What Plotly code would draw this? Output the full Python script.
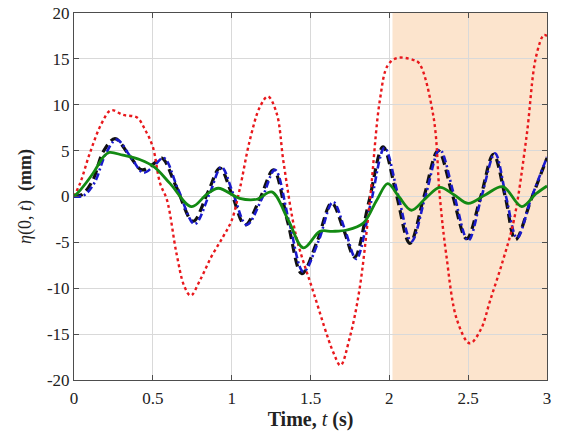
import plotly.graph_objects as go

# Red dotted series
t_red = [0, 0.04, 0.1, 0.176, 0.235, 0.31, 0.40, 0.45, 0.50, 0.545, 0.59, 0.65, 0.70, 0.74, 0.80, 0.87,
         0.945, 1.0, 1.05, 1.116, 1.18, 1.23, 1.285, 1.33, 1.41, 1.52, 1.645, 1.69, 1.75, 1.81, 1.877,
         1.94, 1.99, 2.05, 2.15, 2.19, 2.28, 2.32, 2.36, 2.43, 2.51, 2.58, 2.64, 2.72, 2.79, 2.87, 2.93, 2.98, 3.0]
v_red = [0, 1.5, 4.7, 8.0, 9.4, 8.9, 8.6, 7.3, 5.4, 1.5, -0.4, -6.2, -9.8, -10.8, -9.1, -6.6,
         -4.4, -2.6, 0.7, 6.2, 9.8, 10.9, 9.1, 3.6, -4.4, -10.5, -17.0, -18.4, -15.3, -10.2, -0.4,
         10.5, 14.3, 15.1, 14.9, 14.5, 8.7, 0.0, -6.2, -13.5, -16.0, -14.5, -11.3, -7.0, -2.6, 6.5, 15.2, 17.6, 17.5]

# Black dashed series
t_blk = [0, 0.05, 0.12, 0.186, 0.26, 0.35, 0.43, 0.50, 0.556, 0.65, 0.755, 0.85, 0.926, 1.0, 1.085,
         1.18, 1.265, 1.355, 1.445, 1.54, 1.634, 1.71, 1.78, 1.87, 1.96, 2.045, 2.13, 2.22, 2.31, 2.40,
         2.49, 2.58, 2.66, 2.735, 2.80, 2.90, 3.0]
v_blk = [0, 0.2, 1.8, 4.9, 6.3, 4.5, 2.9, 3.5, 4.2, 1.0, -2.7, 0.5, 3.1, 0.3, -3.1,
         -0.2, 2.9, -2.75, -8.4, -5.0, -0.7, -3.6, -6.6, -0.6, 5.4, 0.2, -5.1, 0.0, 5.0, 0.2,
         -4.6, 0.0, 4.6, 0.0, -4.7, -0.3, 4.2]

# Blue dash-dot series
t_blu = [0, 0.06, 0.13, 0.20, 0.27, 0.36, 0.44, 0.51, 0.57, 0.66, 0.765, 0.86, 0.935, 1.01, 1.095,
         1.19, 1.275, 1.365, 1.455, 1.55, 1.643, 1.72, 1.79, 1.88, 1.97, 2.055, 2.14, 2.23, 2.32, 2.41,
         2.50, 2.585, 2.67, 2.74, 2.81, 2.90, 3.0]
v_blu = [0, 0.1, 1.5, 4.6, 6.2, 4.3, 2.6, 3.4, 4.2, 0.8, -3.0, 0.3, 3.2, 0.3, -3.1,
         -0.3, 2.9, -2.8, -8.2, -4.9, -0.6, -3.7, -6.8, -0.9, 5.3, 0.2, -4.9, 0.1, 5.1, 0.2,
         -4.8, 0.0, 4.7, 0.0, -4.5, -0.2, 4.3]

# Green solid series
t_grn = [0, 0.04, 0.12, 0.186, 0.224, 0.31, 0.42, 0.51, 0.61, 0.746, 0.84, 0.915, 1.05, 1.16, 1.254,
         1.36, 1.455, 1.56, 1.64, 1.73, 1.835, 1.92, 1.99, 2.06, 2.14, 2.23, 2.32, 2.41, 2.50, 2.61,
         2.72, 2.84, 2.93, 3.0]
v_grn = [0, 0.7, 2.5, 4.3, 4.8, 4.5, 4.0, 3.2, 1.4, -1.1, 0.2, 0.9, -0.2, -0.3, 0.5,
         -2.6, -5.6, -3.8, -3.8, -3.65, -2.9, -0.4, 1.4, 0.0, -1.5, -0.2, 1.0, 0.2, -0.75, 0.2,
         1.07, -1.1, 0.3, 1.15]

shade_x = [2.02, 3.0]

x_ticks = [0, 0.5, 1, 1.5, 2, 2.5, 3]
x_labels = ["0", "0.5", "1", "1.5", "2", "2.5", "3"]
y_ticks = [-20, -15, -10, -5, 0, 5, 10, 15, 20]
y_labels = ["-20", "-15", "-10", "-5", "0", "5", "10", "15", "20"]

fig = go.Figure()
fig.add_trace(go.Scatter(x=t_blk, y=v_blk, mode="lines", line=dict(color="#111111", width=3.2, dash="9px,5px", shape="spline")))
fig.add_trace(go.Scatter(x=t_blu, y=v_blu, mode="lines", line=dict(color="#1a1acc", width=2.6, dash="7px,3px,2px,3px", shape="spline")))
fig.add_trace(go.Scatter(x=t_red, y=v_red, mode="lines", line=dict(color="#e8181c", width=2.4, dash="dot", shape="spline")))
fig.add_trace(go.Scatter(x=t_grn, y=v_grn, mode="lines", line=dict(color="#138a13", width=2.8, shape="spline")))

fig.add_shape(type="rect", xref="x", yref="paper", x0=shade_x[0], x1=shade_x[1], y0=0, y1=1,
              fillcolor="#fce4cd", line=dict(width=0), layer="below")

font_family = "Liberation Serif"
fig.update_layout(
    width=561, height=438,
    margin=dict(l=74, r=14, t=13, b=58),
    paper_bgcolor="white", plot_bgcolor="white",
    showlegend=False,
    font=dict(family=font_family, size=16, color="#222222"),
)
fig.update_xaxes(range=[0, 3], tickvals=x_ticks, ticktext=x_labels, automargin=False,
                 showgrid=True, gridcolor="#d9d9d9", gridwidth=1,
                 showline=True, linecolor="#4d4d4d", linewidth=1, mirror="ticks",
                 ticks="inside", ticklen=5, tickcolor="#4d4d4d", zeroline=False,
                 tickfont=dict(size=17), ticklabelstandoff=3,
                 title=dict(text="<b>Time, </b><i>t</i><b> (s)</b>", font=dict(size=20), standoff=1))
fig.update_yaxes(range=[-20, 20], tickvals=y_ticks, ticktext=y_labels, automargin=False,
                 showgrid=True, gridcolor="#d9d9d9", gridwidth=1,
                 showline=True, linecolor="#4d4d4d", linewidth=1, mirror="ticks",
                 ticks="inside", ticklen=5, tickcolor="#4d4d4d", zeroline=False,
                 tickfont=dict(size=17),
                 title=dict(text="<i>η</i>(0, <i>t</i>)  <b>(mm)</b>", font=dict(size=18), standoff=10))

fig.write_html("out.html")
